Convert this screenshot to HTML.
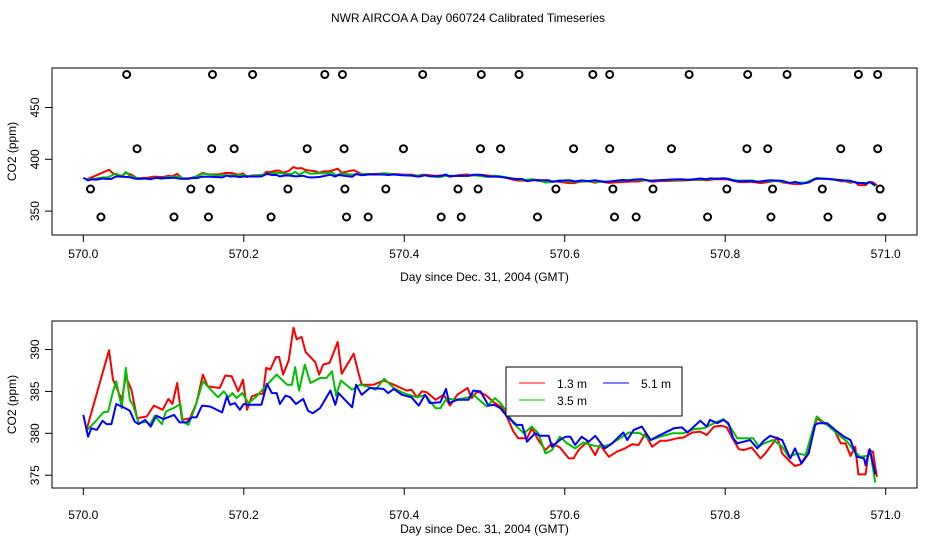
<!DOCTYPE html>
<html><head><meta charset="utf-8"><style>
html,body{margin:0;padding:0;background:#fff}
svg{display:block;font-family:"Liberation Sans",sans-serif}
</style></head><body>
<svg id="chart" width="936" height="540" viewBox="0 0 936 540">
<text x="468" y="22" text-anchor="middle" font-size="12">NWR AIRCOA A  Day 060724  Calibrated Timeseries</text>
<g id="top"></g>
<g id="bot"></g>
</svg>
<script>
const xTicks=[570.0,570.2,570.4,570.6,570.8,571.0];
const xTickLabels=["570.0","570.2","570.4","570.6","570.8","571.0"];
const topYTicks=[350,400,450];
const botYTicks=[375,380,385,390];
const redT=[0.004,0.032,0.037,0.048,0.053,0.060,0.067,0.079,0.088,0.099,0.106,0.111,0.117,0.123,0.133,0.141,0.149,0.155,0.170,0.177,0.185,0.193,0.199,0.204,0.210,0.218,0.224,0.228,0.233,0.240,0.244,0.249,0.256,0.262,0.266,0.272,0.277,0.289,0.294,0.299,0.307,0.317,0.322,0.337,0.343,0.347,0.362,0.374,0.387,0.403,0.409,0.416,0.422,0.428,0.439,0.449,0.457,0.466,0.479,0.484,0.491,0.501,0.513,0.520,0.524,0.536,0.542,0.553,0.559,0.567,0.576,0.584,0.594,0.605,0.611,0.617,0.628,0.638,0.644,0.655,0.665,0.675,0.684,0.692,0.700,0.709,0.719,0.727,0.740,0.748,0.759,0.769,0.777,0.786,0.796,0.802,0.808,0.817,0.823,0.833,0.844,0.850,0.856,0.865,0.871,0.881,0.887,0.894,0.904,0.914,0.923,0.935,0.944,0.950,0.956,0.962,0.966,0.975,0.979,0.984,0.989];
const redV=[380.4,389.9,386.4,384.0,386.8,385.2,381.8,382.0,383.3,382.8,384.1,383.5,386.0,381.6,381.8,383.6,387.0,385.6,385.4,386.9,386.8,385.0,386.4,382.8,384.4,384.7,384.7,387.8,387.6,389.1,389.1,387.0,388.7,392.6,391.2,391.5,389.7,388.5,387.0,388.2,388.4,390.9,387.1,389.5,387.2,385.8,385.8,386.3,385.8,385.1,385.2,384.3,385.0,384.9,384.0,384.6,383.3,384.6,385.4,384.2,385.0,384.6,383.6,383.2,382.8,380.2,379.4,379.4,380.6,379.2,378.0,378.8,378.3,377.0,377.0,378.0,379.0,377.4,378.6,377.2,377.8,378.2,378.7,378.6,379.9,378.4,379.1,379.1,379.4,379.5,380.1,380.2,379.8,380.8,380.9,380.7,379.6,378.1,378.0,378.3,377.0,377.6,378.4,379.5,377.6,376.6,376.1,376.3,377.8,381.8,381.2,380.6,378.8,378.8,377.3,378.4,375.1,375.1,378.0,377.8,374.8];
const greenT=[0.003,0.015,0.025,0.031,0.037,0.041,0.048,0.053,0.058,0.062,0.069,0.079,0.083,0.089,0.098,0.103,0.112,0.121,0.124,0.131,0.139,0.149,0.158,0.168,0.175,0.181,0.186,0.191,0.198,0.206,0.216,0.227,0.241,0.254,0.260,0.264,0.269,0.276,0.283,0.295,0.303,0.310,0.315,0.321,0.335,0.345,0.357,0.364,0.375,0.387,0.399,0.416,0.426,0.439,0.445,0.453,0.463,0.480,0.486,0.503,0.513,0.520,0.526,0.536,0.549,0.559,0.567,0.576,0.584,0.594,0.603,0.613,0.623,0.632,0.644,0.655,0.669,0.680,0.694,0.707,0.719,0.734,0.748,0.761,0.773,0.786,0.798,0.806,0.815,0.827,0.835,0.842,0.848,0.860,0.871,0.879,0.890,0.900,0.914,0.927,0.939,0.952,0.960,0.968,0.977,0.981,0.987];
const greenV=[380.2,381.4,382.5,382.6,385.0,386.2,383.0,387.8,384.0,383.4,381.2,381.4,381.0,382.1,381.1,382.6,383.0,383.5,381.4,381.0,383.0,386.2,385.3,384.3,385.0,384.3,384.8,384.2,384.8,383.6,384.4,385.6,387.0,385.8,385.8,387.9,385.1,388.2,386.0,386.6,386.6,387.4,384.5,386.3,385.2,385.8,385.5,385.2,386.5,385.4,384.8,384.3,384.6,383.0,383.0,384.2,384.0,384.3,384.6,383.2,384.2,383.6,382.8,381.2,380.0,380.8,380.0,377.6,378.0,379.6,378.8,378.2,378.9,378.6,378.4,378.6,379.4,380.1,380.0,379.2,379.6,380.0,380.0,380.5,380.6,381.2,381.7,380.8,379.4,379.4,379.4,378.4,378.8,379.2,378.4,377.2,377.6,377.4,382.0,381.0,380.0,379.0,378.0,377.2,377.3,377.6,374.1];
const blueT=[0.000,0.006,0.010,0.017,0.024,0.029,0.035,0.041,0.050,0.058,0.064,0.069,0.077,0.084,0.091,0.100,0.113,0.120,0.129,0.135,0.141,0.148,0.158,0.173,0.179,0.183,0.189,0.195,0.200,0.206,0.222,0.229,0.235,0.241,0.245,0.252,0.258,0.265,0.274,0.280,0.286,0.295,0.308,0.314,0.318,0.335,0.340,0.347,0.357,0.374,0.380,0.387,0.397,0.409,0.418,0.426,0.432,0.445,0.452,0.456,0.466,0.480,0.486,0.495,0.505,0.512,0.520,0.528,0.540,0.547,0.553,0.563,0.569,0.580,0.584,0.594,0.601,0.607,0.613,0.621,0.630,0.638,0.650,0.659,0.673,0.678,0.686,0.696,0.707,0.717,0.736,0.746,0.753,0.761,0.769,0.777,0.781,0.790,0.798,0.804,0.810,0.815,0.823,0.831,0.840,0.848,0.856,0.865,0.871,0.881,0.887,0.895,0.904,0.912,0.916,0.927,0.937,0.948,0.956,0.964,0.973,0.975,0.980,0.985,0.987];
const blueV=[382.2,379.6,380.6,380.4,381.5,381.1,381.1,383.5,383.1,382.7,381.4,381.1,381.6,380.8,382.1,381.7,382.2,381.3,381.3,381.9,381.9,383.3,383.2,382.5,384.4,383.4,383.6,382.8,383.5,383.4,383.4,385.9,384.8,384.8,383.5,384.5,384.3,383.5,384.1,382.7,382.4,383.0,385.1,383.4,384.8,383.1,385.8,384.6,385.4,385.3,384.8,385.3,384.6,384.3,383.3,384.6,383.6,383.7,385.3,383.6,384.0,384.0,385.1,385.0,383.3,383.4,383.0,382.0,381.0,381.0,379.0,380.0,379.7,379.7,378.4,379.2,379.6,379.6,378.6,379.6,379.0,379.7,378.2,378.8,380.1,379.2,380.4,380.8,379.2,379.7,380.6,380.7,380.1,380.8,381.5,380.8,381.6,381.2,381.6,381.2,379.4,378.8,379.0,379.2,378.2,379.1,379.7,379.4,379.2,377.0,378.2,376.4,377.6,381.0,381.2,381.2,380.4,379.6,379.2,377.2,377.0,376.2,378.1,376.0,375.1];
const outlierT=[0.054,0.161,0.211,0.301,0.323,0.423,0.496,0.543,0.635,0.656,0.755,0.828,0.877,0.966,0.990,
0.067,0.160,0.188,0.279,0.325,0.399,0.495,0.520,0.611,0.656,0.733,0.827,0.853,0.944,0.990,
0.009,0.134,0.158,0.255,0.326,0.377,0.467,0.492,0.589,0.660,0.710,0.802,0.859,0.921,0.993,
0.022,0.113,0.156,0.234,0.328,0.355,0.446,0.471,0.566,0.662,0.689,0.778,0.857,0.928,0.995];
const outlierV=[481.9,481.9,481.9,481.9,481.9,481.9,481.9,481.9,481.9,481.9,481.9,481.9,481.9,481.9,481.9,
410.2,410.2,410.2,410.2,410.2,410.2,410.2,410.2,410.2,410.2,410.2,410.2,410.2,410.2,410.2,
371.3,371.3,371.3,371.3,371.3,371.3,371.3,371.3,371.3,371.3,371.3,371.3,371.3,371.3,371.3,
344.3,344.3,344.3,344.3,344.3,344.3,344.3,344.3,344.3,344.3,344.3,344.3,344.3,344.3,344.3];

const NS="http://www.w3.org/2000/svg";
function mk(tag,attrs,parent){const e=document.createElementNS(NS,tag);for(const k in attrs)e.setAttribute(k,attrs[k]);parent.appendChild(e);return e;}
const L=52,R=917;
function xs(d){return 83.3+(d-570)*802.4;}
function panel(g,top,bot,yScale,yTicks,yTickLabels,tickLabY,xlabY){
  const box=mk('rect',{x:L,y:top,width:R-L,height:bot-top,fill:'none',stroke:'#000','stroke-width':1},g);
  
  
  xTicks.forEach((t,i)=>{
    const ln=mk('line',{x1:xs(t),x2:xs(t),y1:bot,y2:bot+7,stroke:'#000'},g);
    
    
    const tx=mk('text',{x:xs(t),y:tickLabY,'text-anchor':'middle','font-size':12},g);
    tx.textContent=xTickLabels[i];
    
    
  });
  const xl=mk('text',{x:(L+R)/2,y:xlabY,'text-anchor':'middle','font-size':12},g);
  xl.textContent='Day since Dec. 31, 2004 (GMT)';
  
  
  yTicks.forEach((v,i)=>{
    const y=yScale(v);
    const ln=mk('line',{x1:L-7,x2:L,y1:y,y2:y,stroke:'#000'},g);
    
    
    const tx=mk('text',{x:0,y:0,'text-anchor':'middle','font-size':12,transform:`translate(39,${y}) rotate(-90)`},g);
    tx.textContent=yTickLabels[i];
    
    
  });
  const yl=mk('text',{x:0,y:0,'text-anchor':'middle','font-size':12,transform:`translate(16,${(top+bot)/2}) rotate(-90)`},g);
  yl.textContent='CO2 (ppm)';
  
  
}
function series(g,T,V,yScale,color,name,clip){
  const pts=T.map((t,i)=>xs(570+t).toFixed(1)+','+yScale(V[i]).toFixed(1)).join(' ');
  const p=mk('polyline',{points:pts,fill:'none',stroke:color,'stroke-width':2,'stroke-linejoin':'round'},g);
  
  
}
// top
const gt=document.getElementById('top');
const yTop=v=>159.3-(v-400)*1.036;
panel(gt,68,235,yTop,topYTicks,topYTicks.map(String),258,281);
series(gt,redT,redV,yTop,'#ff0000','series-1-3m');
series(gt,greenT,greenV,yTop,'#00c000','series-3-5m');
series(gt,blueT,blueV,yTop,'#0000ff','series-5-1m');
outlierT.forEach((t,i)=>{
  const c=mk('circle',{cx:xs(570+t),cy:yTop(outlierV[i]),r:3.5,fill:'none',stroke:'#000','stroke-width':2},gt);
  
  
});
// bottom
const gb=document.getElementById('bot');
const yBot=v=>433.3-(v-380)*8.38;
panel(gb,321,488,yBot,botYTicks,botYTicks.map(String),519,533);
series(gb,redT,redV,yBot,'#ff0000','series-1-3m');
series(gb,greenT,greenV,yBot,'#00c000','series-3-5m');
series(gb,blueT,blueV,yBot,'#0000ff','series-5-1m');
// legend
const lg=mk('g',{},gb);


mk('rect',{x:506,y:367,width:176,height:49,fill:'#fff',stroke:'#000'},lg);
const items=[['1.3 m','#ff0000',519,383],['3.5 m','#00c000',519,400],['5.1 m','#0000ff',603,383]];
items.forEach(it=>{
  const e=mk('g',{},lg);
  
  
  mk('line',{x1:it[2],x2:it[2]+26,y1:it[3],y2:it[3],stroke:it[1],'stroke-width':1},e);
  const t=mk('text',{x:it[2]+38,y:it[3]+5,'font-size':12},e);
  t.textContent=it[0];
});
</script>
</body></html>
